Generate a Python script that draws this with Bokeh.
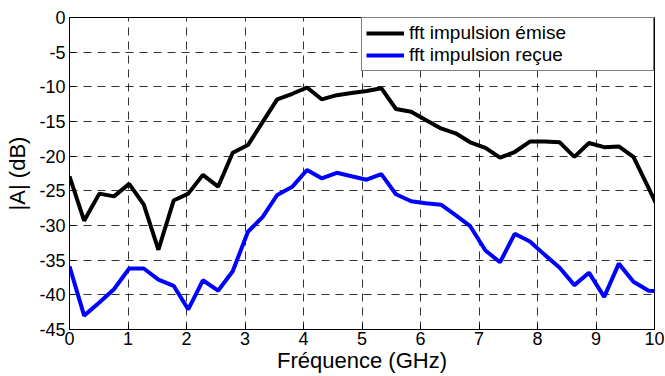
from bokeh.plotting import figure
from bokeh.models import FixedTicker, Legend, LegendItem, Range1d
from bokeh.embed import file_html
from bokeh.resources import INLINE

# Frequencies (GHz)
freq = [0.00, 0.25, 0.51, 0.76, 1.02, 1.27, 1.52, 1.78, 2.03, 2.28,
        2.54, 2.79, 3.05, 3.30, 3.55, 3.81, 4.06, 4.31, 4.57, 4.82,
        5.08, 5.33, 5.58, 5.84, 6.09, 6.35, 6.60, 6.85, 7.11, 7.36,
        7.61, 7.87, 8.12, 8.38, 8.63, 8.88, 9.14, 9.39, 9.64, 9.90, 10.15]

# fft impulsion émise (dB)
emise = [-22.9, -29.3, -25.4, -25.8, -24.0, -27.0, -33.5, -26.4, -25.4, -22.7,
         -24.4, -19.5, -18.4, -15.1, -11.8, -11.0, -10.1, -11.8, -11.2, -10.9,
         -10.6, -10.2, -13.2, -13.6, -14.8, -16.0, -16.7, -18.0, -18.8, -20.2,
         -19.4, -17.9, -17.9, -18.0, -20.1, -18.1, -18.7, -18.6, -20.1, -24.6, -29.0]

# fft impulsion reçue (dB)
recue = [-35.9, -43.0, -41.1, -39.2, -36.2, -36.2, -37.8, -38.7, -42.1, -37.9,
         -39.4, -36.6, -30.9, -28.8, -25.6, -24.4, -22.0, -23.2, -22.4, -22.9,
         -23.4, -22.6, -25.5, -26.5, -26.8, -27.0, -28.5, -30.1, -33.6, -35.3,
         -31.2, -32.3, -34.2, -36.1, -38.6, -36.8, -40.3, -35.5, -38.1, -39.4, -39.5]

x_ticks = [0, 1, 2, 3, 4, 5, 6, 7, 8, 9, 10]
y_ticks = [-45, -40, -35, -30, -25, -20, -15, -10, -5, 0]
y_tick_labels = ["-45", "-40", "-35", "-30", "-25", "-20", "-15", "-10", "-5", "0"]

FONT = "Liberation Sans"

p = figure(width=664, height=375, output_backend="svg", toolbar_location=None,
           x_range=Range1d(0, 10), y_range=Range1d(-45, 0),
           min_border_left=69, min_border_right=10, min_border_top=17,
           min_border_bottom=44)

p.background_fill_color = "white"
p.border_fill_color = "white"
p.outline_line_color = "black"
p.outline_line_width = 1
p.outline_line_alpha = 1

r1 = p.line(freq, emise, line_color="black", line_width=4)
r2 = p.line(freq, recue, line_color="#0000FF", line_width=4)

for ax in (p.xaxis[0], p.yaxis[0]):
    ax.major_label_text_font = FONT
    ax.major_label_text_font_size = "18px"
    ax.major_label_text_color = "black"
    ax.axis_label_text_font = FONT
    ax.axis_label_text_font_size = "22px"
    ax.axis_label_text_font_style = "normal"
    ax.axis_label_text_color = "black"
    ax.axis_line_color = "black"
    ax.major_tick_line_color = "black"
    ax.major_tick_in = 5
    ax.major_tick_out = 0
    ax.minor_tick_line_color = None

p.xaxis.ticker = FixedTicker(ticks=x_ticks)
p.yaxis.ticker = FixedTicker(ticks=y_ticks)
p.yaxis.major_label_overrides = {t: l for t, l in zip(y_ticks, y_tick_labels)}
p.xaxis.major_label_overrides = {t: str(t) for t in x_ticks}
p.xaxis.axis_label = "Fréquence (GHz)"
p.yaxis.axis_label = "|A| (dB)"
p.xaxis.major_label_standoff = 2
p.xaxis.axis_label_standoff = 0
p.yaxis.major_label_standoff = 4
p.yaxis.axis_label_standoff = 6

p.xgrid.ticker = FixedTicker(ticks=x_ticks)
p.ygrid.ticker = FixedTicker(ticks=y_ticks)
for g in (p.xgrid[0], p.ygrid[0]):
    g.grid_line_color = "black"
    g.grid_line_alpha = 0.8
    g.grid_line_dash = "8 6"
    g.grid_line_width = 1

legend = Legend(items=[LegendItem(label="fft impulsion émise", renderers=[r1]),
                       LegendItem(label="fft impulsion reçue", renderers=[r2])],
                location="top_right")
legend.margin = 0
legend.padding = 4
legend.spacing = 0
legend.glyph_width = 38
legend.glyph_height = 20
legend.label_height = 20
legend.label_width = 240
legend.label_standoff = 5
legend.label_text_font = FONT
legend.label_text_font_size = "19px"
legend.label_text_color = "black"
legend.border_line_color = "black"
legend.border_line_width = 1
legend.background_fill_color = "white"
legend.background_fill_alpha = 1
p.add_layout(legend)

open("out.html", "w").write(file_html(p, INLINE))
